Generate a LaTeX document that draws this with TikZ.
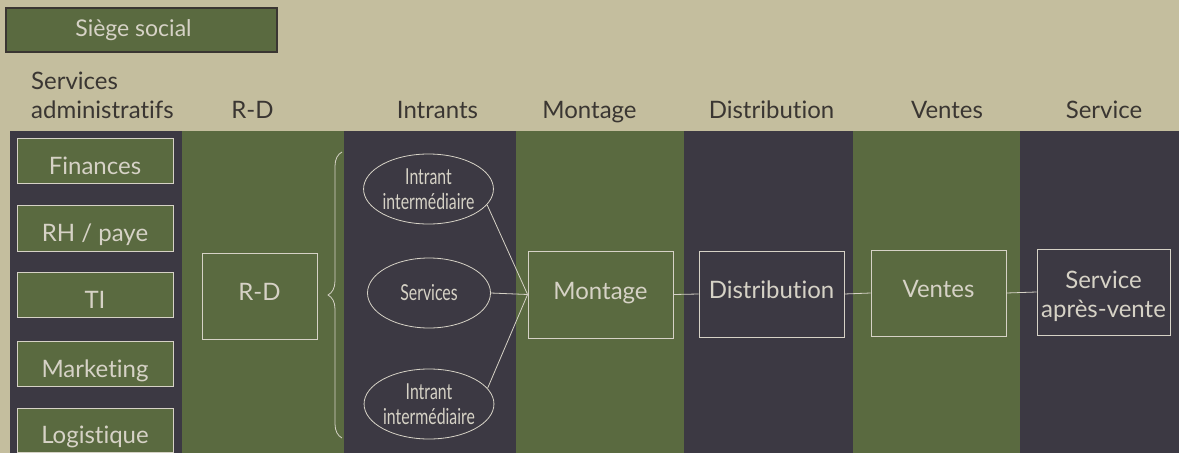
\documentclass[tikz,border=0pt]{standalone}
\usepackage{fontspec}
\setmainfont{Lato}[Ligatures=NoCommon]
\newfontfamily\condfont{Lato}[FakeStretch=0.72, Ligatures=NoCommon]
\usetikzlibrary{decorations.pathreplacing,shapes.geometric}
\definecolor{bg}{RGB}{196,190,158}
\definecolor{grn}{RGB}{90,106,64}
\definecolor{drk}{RGB}{60,57,67}
\definecolor{lne}{RGB}{214,210,198}
\definecolor{hdr}{RGB}{58,54,50}
\tikzset{
  hdrtxt/.style={text=hdr, font=\fontsize{24}{29}\selectfont, inner sep=0pt},
  boxtxt/.style={draw=lne, line width=0.8pt, text=lne, font=\fontsize{24}{29}\selectfont, align=center, inner sep=0pt},
  adminbox/.style={boxtxt, fill=grn, minimum width=156pt, minimum height=45pt, text height=27pt, text depth=0pt},
  chainbox/.style={boxtxt, text height=17.3pt, text depth=8pt},
  intrant/.style={ellipse, draw=lne, line width=0.8pt, text=lne, font=\condfont\fontsize{22}{25}\selectfont, align=center, inner sep=0pt, minimum width=123pt, minimum height=70pt},
  conn/.style={draw=lne, line width=0.8pt}
}
\begin{document}
\begin{tikzpicture}[x=1pt,y=-1pt]
\useasboundingbox (0,0) rectangle (1179,453);
\fill[bg] (0,0) rectangle (1179,453);
% bands
\fill[drk] (10,131) rectangle (182,453);
\fill[grn] (182,131) rectangle (344,453);
\fill[drk] (344,131) rectangle (516,453);
\fill[grn] (516,131) rectangle (684,453);
\fill[drk] (684,131) rectangle (853,453);
\fill[grn] (853,131) rectangle (1020,453);
\fill[drk] (1020,131) rectangle (1179,453);
% siege
\node[draw=hdr, line width=1.2pt, fill=grn, text=lne, font=\fontsize{23}{28}\selectfont, minimum width=271pt, minimum height=44pt, inner sep=0pt] (siege) at (141.5,30) {Siège social\hspace*{16pt}};
% headers
\node[hdrtxt, align=left, anchor=north west] (hAdmin) at (31,71.5) {Services\\administratifs};
\node[hdrtxt, anchor=base] (hRD) at (252.5,118) {R-D};
\node[hdrtxt, anchor=base] (hInt) at (437.5,118) {Intrants};
\node[hdrtxt, anchor=base] (hMon) at (589.5,118) {Montage};
\node[hdrtxt, anchor=base] (hDis) at (771.5,118) {Distribution};
\node[hdrtxt, anchor=base] (hVen) at (947,118) {Ventes};
\node[hdrtxt, anchor=base] (hSer) at (1104,118) {Service};
% admin boxes
\node[adminbox] (fin) at (95,160.5) {Finances};
\node[adminbox, minimum height=46pt] (rh) at (95,228) {RH / paye};
\node[adminbox] (ti) at (95,294.5) {TI};
\node[adminbox] (mkt) at (95,363.5) {Marketing};
\node[adminbox, minimum height=44pt] (log) at (95,430) {Logistique};
% R-D
\node[chainbox, minimum width=115pt, minimum height=86pt] (rd) at (259.5,296) {R-D};
\coordinate (brtop) at (342,152);
\coordinate (brbot) at (342,438);
\draw[conn, decorate, decoration={brace, amplitude=14pt, aspect=0.5}] (brbot) -- (brtop);
% intrants
\node[intrant] (e1) at (428.5,189) {Intrant\\intermédiaire};
\node[intrant] (e2) at (429,293) {Services};
\node[intrant] (e3) at (429,404) {Intrant\\intermédiaire};
% chain
\node[chainbox, minimum width=145pt, minimum height=87pt] (mon) at (600.5,294.5) {Montage};
\node[chainbox, minimum width=145pt, minimum height=86pt] (dis) at (771.5,294) {Distribution};
\node[chainbox, minimum width=135pt, minimum height=86pt] (ven) at (938.5,293) {Ventes};
\node[boxtxt, minimum width=133pt, minimum height=86pt, text height=50pt, text depth=0pt] (ser) at (1103.5,292) {Service\\après-vente};
% connectors
\draw[conn] (e1.-15) -- (mon.west);
\draw[conn] (e2.east) -- (mon.west);
\draw[conn] (e3.15) -- (mon.west);
\draw[conn] (mon.east) -- (dis.west);
\draw[conn] (dis.east) -- (ven.west);
\draw[conn] (ven.east) -- (ser.west);
\end{tikzpicture}
\end{document}
